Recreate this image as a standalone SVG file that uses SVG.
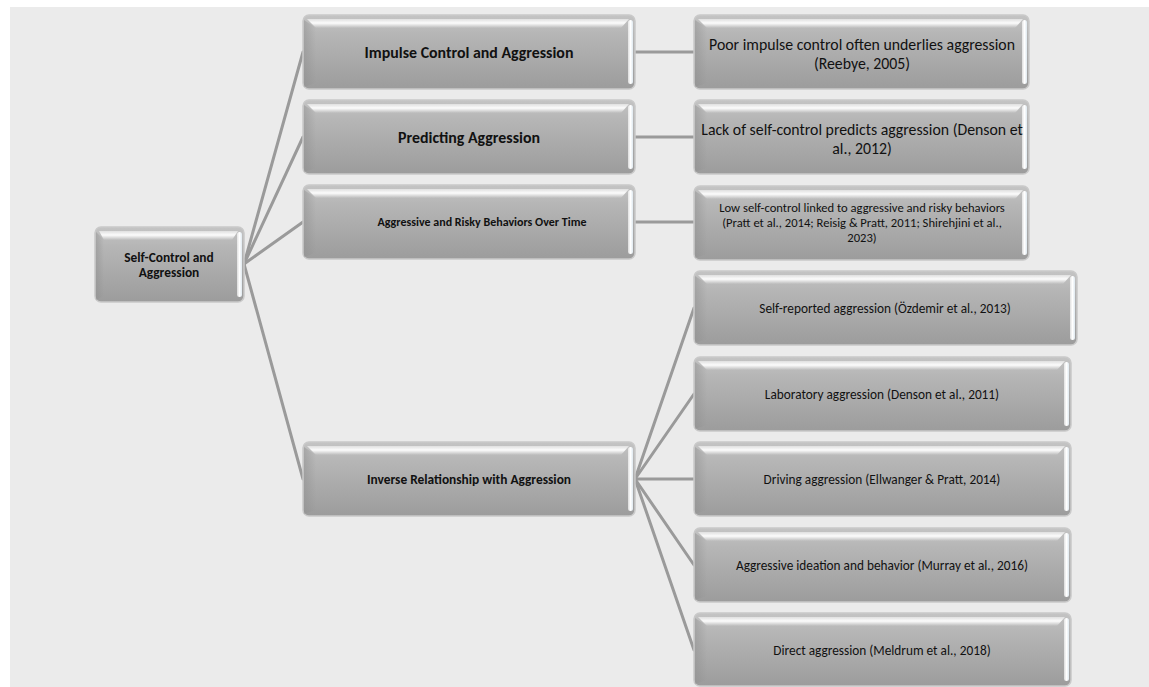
<svg xmlns="http://www.w3.org/2000/svg" width="1149" height="687" viewBox="0 0 1149 687">
<defs>
<linearGradient id="body" x1="0" y1="0" x2="0" y2="1">
<stop offset="0" stop-color="#c4c4c4"/>
<stop offset="0.25" stop-color="#b6b6b6"/>
<stop offset="1" stop-color="#9c9c9c"/>
</linearGradient>
<linearGradient id="topHi" x1="0" y1="0" x2="0" y2="1">
<stop offset="0" stop-color="#ffffff" stop-opacity="0.5"/>
<stop offset="0.45" stop-color="#ffffff" stop-opacity="0.95"/>
<stop offset="1" stop-color="#ffffff" stop-opacity="0"/>
</linearGradient>
<linearGradient id="leftSh" x1="0" y1="0" x2="1" y2="0">
<stop offset="0" stop-color="#8f8f8f" stop-opacity="0.5"/>
<stop offset="1" stop-color="#8f8f8f" stop-opacity="0"/>
</linearGradient>
<linearGradient id="rightHi" x1="0" y1="0" x2="1" y2="0">
<stop offset="0" stop-color="#ffffff" stop-opacity="0.6"/>
<stop offset="0.5" stop-color="#ffffff" stop-opacity="1"/>
<stop offset="1" stop-color="#dfe9f0" stop-opacity="1"/>
</linearGradient>
</defs>
<style>
.base{fill:url(#body);stroke:#c9c9c9;stroke-width:1.5}
.top{fill:url(#topHi)}
.left{fill:url(#leftSh)}
.right{fill:url(#rightHi)}
.conn{stroke:#9a9a9a;stroke-width:3;fill:none;stroke-linecap:round}
text{font-family:Carlito,Lato,"Liberation Sans",sans-serif;fill:#111;text-anchor:middle;dominant-baseline:central}
.b16{font-size:15.9px;font-weight:bold}
.b12{font-size:12px;font-weight:bold}
.b13{font-size:13.4px;font-weight:bold}
.r16{font-size:15.8px}
.r13{font-size:13.3px}
.r12{font-size:12.6px}
</style>
<rect x="10" y="7" width="1139" height="680" fill="#ebebeb"/>
<g id="connectors">
<line class="conn" x1="244" y1="264" x2="303" y2="52"/>
<line class="conn" x1="244" y1="264" x2="303" y2="137"/>
<line class="conn" x1="244" y1="264" x2="303" y2="222"/>
<line class="conn" x1="244" y1="264" x2="303" y2="479"/>
<line class="conn" x1="635" y1="52" x2="694" y2="52"/>
<line class="conn" x1="635" y1="137" x2="694" y2="137"/>
<line class="conn" x1="635" y1="222" x2="694" y2="222"/>
<line class="conn" x1="635" y1="479" x2="694" y2="308"/>
<line class="conn" x1="635" y1="479" x2="694" y2="394"/>
<line class="conn" x1="635" y1="479" x2="694" y2="479"/>
<line class="conn" x1="635" y1="479" x2="694" y2="565"/>
<line class="conn" x1="635" y1="479" x2="694" y2="650"/>
</g>
<g id="root">
<rect class="base" x="95" y="227" width="149" height="75" rx="6"/>
<path class="top" d="M99 231 H238 L232 240 H104 Z"/>
<path class="left" d="M96 232 L104 240 V296 L96 300 Z"/>
<rect class="right" x="237" y="232" width="5" height="65" rx="2.5"/>
<text class="b13" x="169" y="257">Self-Control and</text>
<text class="b13" x="169" y="272">Aggression</text>
</g>
<g id="n-impulse">
<rect class="base" x="303" y="15" width="332" height="74" rx="6"/>
<path class="top" d="M307 19 H629 L621 28 H316 Z"/>
<path class="left" d="M304 20 L316 28 V83 L304 87 Z"/>
<rect class="right" x="628" y="20" width="5" height="64" rx="2.5"/>
<text class="b16" x="469" y="52">Impulse Control and Aggression</text>
</g>
<g id="n-predicting">
<rect class="base" x="303" y="100" width="332" height="74" rx="6"/>
<path class="top" d="M307 104 H629 L621 113 H316 Z"/>
<path class="left" d="M304 105 L316 113 V168 L304 172 Z"/>
<rect class="right" x="628" y="105" width="5" height="64" rx="2.5"/>
<text class="b16" x="469" y="137">Predicting Aggression</text>
</g>
<g id="n-risky">
<rect class="base" x="303" y="185" width="332" height="74" rx="6"/>
<path class="top" d="M307 189 H629 L621 198 H316 Z"/>
<path class="left" d="M304 190 L316 198 V253 L304 257 Z"/>
<rect class="right" x="628" y="190" width="5" height="64" rx="2.5"/>
<text class="b12" x="482" y="222">Aggressive and Risky Behaviors Over Time</text>
</g>
<g id="n-inverse">
<rect class="base" x="303" y="442" width="332" height="74" rx="6"/>
<path class="top" d="M307 446 H629 L621 455 H316 Z"/>
<path class="left" d="M304 447 L316 455 V510 L304 514 Z"/>
<rect class="right" x="628" y="447" width="5" height="64" rx="2.5"/>
<text class="b13" x="469" y="479">Inverse Relationship with Aggression</text>
</g>
<g id="d-impulse">
<rect class="base" x="694" y="15" width="335" height="74" rx="6"/>
<path class="top" d="M698 19 H1023 L1015 28 H707 Z"/>
<path class="left" d="M695 20 L707 28 V83 L695 87 Z"/>
<rect class="right" x="1022" y="20" width="5" height="64" rx="2.5"/>
<text class="r16" x="862" y="44">Poor impulse control often underlies aggression</text>
<text class="r16" x="862" y="63">(Reebye, 2005)</text>
</g>
<g id="d-predicting">
<rect class="base" x="694" y="100" width="335" height="74" rx="6"/>
<path class="top" d="M698 104 H1023 L1015 113 H707 Z"/>
<path class="left" d="M695 105 L707 113 V168 L695 172 Z"/>
<rect class="right" x="1022" y="105" width="5" height="64" rx="2.5"/>
<text class="r16" x="862" y="129">Lack of self-control predicts aggression (Denson et</text>
<text class="r16" x="862" y="148">al., 2012)</text>
</g>
<g id="d-risky">
<rect class="base" x="694" y="186" width="335" height="74" rx="6"/>
<path class="top" d="M698 190 H1023 L1015 199 H707 Z"/>
<path class="left" d="M695 191 L707 199 V254 L695 258 Z"/>
<rect class="right" x="1022" y="191" width="5" height="64" rx="2.5"/>
<text class="r12" x="862" y="207">Low self-control linked to aggressive and risky behaviors</text>
<text class="r12" x="862" y="222">(Pratt et al., 2014; Reisig &amp; Pratt, 2011; Shirehjini et al.,</text>
<text class="r12" x="862" y="237">2023)</text>
</g>
<g id="d-self-reported">
<rect class="base" x="694" y="271" width="383" height="74" rx="6"/>
<path class="top" d="M698 275 H1071 L1063 284 H707 Z"/>
<path class="left" d="M695 276 L707 284 V339 L695 343 Z"/>
<rect class="right" x="1070" y="276" width="5" height="64" rx="2.5"/>
<text class="r13" x="885" y="308">Self-reported aggression (Özdemir et al., 2013)</text>
</g>
<g id="d-laboratory">
<rect class="base" x="694" y="357" width="377" height="74" rx="6"/>
<path class="top" d="M698 361 H1065 L1057 370 H707 Z"/>
<path class="left" d="M695 362 L707 370 V425 L695 429 Z"/>
<rect class="right" x="1064" y="362" width="5" height="64" rx="2.5"/>
<text class="r13" x="882" y="394">Laboratory aggression (Denson et al., 2011)</text>
</g>
<g id="d-driving">
<rect class="base" x="694" y="442" width="377" height="74" rx="6"/>
<path class="top" d="M698 446 H1065 L1057 455 H707 Z"/>
<path class="left" d="M695 447 L707 455 V510 L695 514 Z"/>
<rect class="right" x="1064" y="447" width="5" height="64" rx="2.5"/>
<text class="r13" x="882" y="479">Driving aggression (Ellwanger &amp; Pratt, 2014)</text>
</g>
<g id="d-ideation">
<rect class="base" x="694" y="528" width="377" height="74" rx="6"/>
<path class="top" d="M698 532 H1065 L1057 541 H707 Z"/>
<path class="left" d="M695 533 L707 541 V596 L695 600 Z"/>
<rect class="right" x="1064" y="533" width="5" height="64" rx="2.5"/>
<text class="r13" x="882" y="565">Aggressive ideation and behavior (Murray et al., 2016)</text>
</g>
<g id="d-direct">
<rect class="base" x="694" y="613" width="377" height="73" rx="6"/>
<path class="top" d="M698 617 H1065 L1057 626 H707 Z"/>
<path class="left" d="M695 618 L707 626 V680 L695 684 Z"/>
<rect class="right" x="1064" y="618" width="5" height="63" rx="2.5"/>
<text class="r13" x="882" y="650">Direct aggression (Meldrum et al., 2018)</text>
</g>
</svg>
